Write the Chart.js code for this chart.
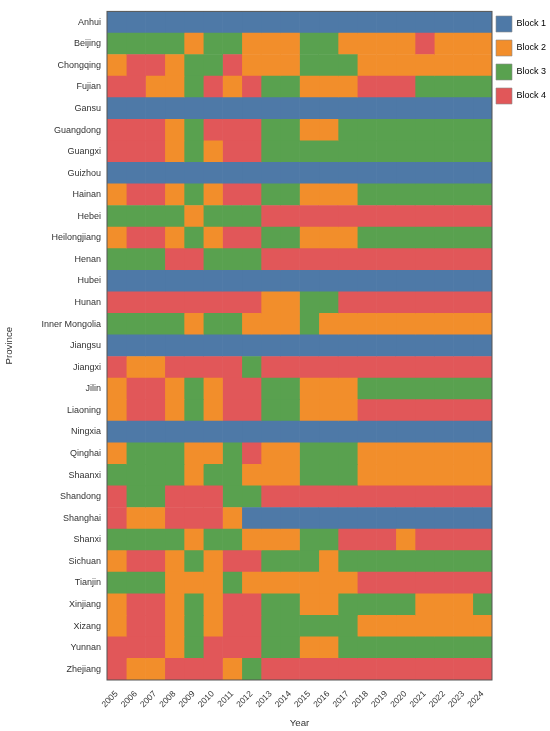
<!DOCTYPE html>
<html>
<head>
<meta charset="utf-8">
<script src="https://cdn.jsdelivr.net/npm/chart.js@4.4.1/dist/chart.umd.min.js"></script>
<style>
  html, body { margin: 0; padding: 0; background: #fff; }
  #wrap { width: 550px; height: 731px; position: relative; }
</style>
</head>
<body>
<div id="wrap"><canvas id="grafica"></canvas></div>
<script>
const provinces = ['Anhui', 'Beijing', 'Chongqing', 'Fujian', 'Gansu', 'Guangdong', 'Guangxi', 'Guizhou',
  'Hainan', 'Hebei', 'Heilongjiang', 'Henan', 'Hubei', 'Hunan', 'Inner Mongolia', 'Jiangsu', 'Jiangxi',
  'Jilin', 'Liaoning', 'Ningxia', 'Qinghai', 'Shaanxi', 'Shandong', 'Shanghai', 'Shanxi', 'Sichuan',
  'Tianjin', 'Xinjiang', 'Xizang', 'Yunnan', 'Zhejiang'];
const years = ['2005', '2006', '2007', '2008', '2009', '2010', '2011', '2012', '2013', '2014',
  '2015', '2016', '2017', '2018', '2019', '2020', '2021', '2022', '2023', '2024'];
const blockNames = ['Block 1', 'Block 2', 'Block 3', 'Block 4'];
const blockColors = ['#4E79A7', '#F28E2B', '#59A14F', '#E15759'];

// block of each province (one row per province, one column per year)
const blocks = [
  [1,1,1,1,1,1,1,1,1,1,1,1,1,1,1,1,1,1,1,1], // Anhui
  [3,3,3,3,2,3,3,2,2,2,3,3,2,2,2,2,4,2,2,2], // Beijing
  [2,4,4,2,3,3,4,2,2,2,3,3,3,2,2,2,2,2,2,2], // Chongqing
  [4,4,2,2,3,4,2,4,3,3,2,2,2,4,4,4,3,3,3,3], // Fujian
  [1,1,1,1,1,1,1,1,1,1,1,1,1,1,1,1,1,1,1,1], // Gansu
  [4,4,4,2,3,4,4,4,3,3,2,2,3,3,3,3,3,3,3,3], // Guangdong
  [4,4,4,2,3,2,4,4,3,3,3,3,3,3,3,3,3,3,3,3], // Guangxi
  [1,1,1,1,1,1,1,1,1,1,1,1,1,1,1,1,1,1,1,1], // Guizhou
  [2,4,4,2,3,2,4,4,3,3,2,2,2,3,3,3,3,3,3,3], // Hainan
  [3,3,3,3,2,3,3,3,4,4,4,4,4,4,4,4,4,4,4,4], // Hebei
  [2,4,4,2,3,2,4,4,3,3,2,2,2,3,3,3,3,3,3,3], // Heilongjiang
  [3,3,3,4,4,3,3,3,4,4,4,4,4,4,4,4,4,4,4,4], // Henan
  [1,1,1,1,1,1,1,1,1,1,1,1,1,1,1,1,1,1,1,1], // Hubei
  [4,4,4,4,4,4,4,4,2,2,3,3,4,4,4,4,4,4,4,4], // Hunan
  [3,3,3,3,2,3,3,2,2,2,3,2,2,2,2,2,2,2,2,2], // Inner Mongolia
  [1,1,1,1,1,1,1,1,1,1,1,1,1,1,1,1,1,1,1,1], // Jiangsu
  [4,2,2,4,4,4,4,3,4,4,4,4,4,4,4,4,4,4,4,4], // Jiangxi
  [2,4,4,2,3,2,4,4,3,3,2,2,2,3,3,3,3,3,3,3], // Jilin
  [2,4,4,2,3,2,4,4,3,3,2,2,2,4,4,4,4,4,4,4], // Liaoning
  [1,1,1,1,1,1,1,1,1,1,1,1,1,1,1,1,1,1,1,1], // Ningxia
  [2,3,3,3,2,2,3,4,2,2,3,3,3,2,2,2,2,2,2,2], // Qinghai
  [3,3,3,3,2,3,3,2,2,2,3,3,3,2,2,2,2,2,2,2], // Shaanxi
  [4,3,3,4,4,4,3,3,4,4,4,4,4,4,4,4,4,4,4,4], // Shandong
  [4,2,2,4,4,4,2,1,1,1,1,1,1,1,1,1,1,1,1,1], // Shanghai
  [3,3,3,3,2,3,3,2,2,2,3,3,4,4,4,2,4,4,4,4], // Shanxi
  [2,4,4,2,3,2,4,4,3,3,3,2,3,3,3,3,3,3,3,3], // Sichuan
  [3,3,3,2,2,2,3,2,2,2,2,2,2,4,4,4,4,4,4,4], // Tianjin
  [2,4,4,2,3,2,4,4,3,3,2,2,3,3,3,3,2,2,2,3], // Xinjiang
  [2,4,4,2,3,2,4,4,3,3,3,3,3,2,2,2,2,2,2,2], // Xizang
  [4,4,4,2,3,4,4,4,3,3,2,2,3,3,3,3,3,3,3,3], // Yunnan
  [4,2,2,4,4,4,2,3,4,4,4,4,4,4,4,4,4,4,4,4]  // Zhejiang
];

const fuente = "'Liberation Sans', Arial, sans-serif";
const gris = '#333333';

// one stacked dataset per year, each cell one unit wide
const datasets = years.map((yr, j) => ({
  label: yr,
  data: provinces.map(() => 1),
  backgroundColor: blocks.map(fila => blockColors[fila[j] - 1]),
  borderWidth: 0,
  barPercentage: 1,
  categoryPercentage: 1
}));

// dark frame around the plot
const marco = {
  id: 'marco',
  afterDatasetsDraw(chart) {
    const { ctx, chartArea: a } = chart;
    ctx.save();
    ctx.strokeStyle = '#555555';
    ctx.lineWidth = 1;
    ctx.strokeRect(a.left, a.top, a.right - a.left, a.bottom - a.top);
    ctx.restore();
  }
};

// nudge legend to where it sits in the reference
const moverLeyenda = {
  id: 'moverLeyenda',
  afterLayout(chart) {
    const l = chart.legend;
    l.left -= 4; l.right -= 4;
    l.top += 5; l.bottom += 5;
  }
};

Chart.defaults.font.family = fuente;
Chart.defaults.color = gris;

new Chart(document.getElementById('grafica'), {
  type: 'bar',
  data: { labels: provinces, datasets: datasets },
  plugins: [marco, moverLeyenda],
  options: {
    indexAxis: 'y',
    responsive: true,
    maintainAspectRatio: false,
    animation: false,
    layout: { padding: { top: 3, right: 0, bottom: 0, left: 0 } },
    plugins: {
      tooltip: { enabled: false },
      legend: {
        position: 'right',
        align: 'start',
        maxWidth: 58,
        onClick: () => {},
        labels: {
          boxWidth: 16,
          boxHeight: 16,
          padding: 8,
          color: gris,
          font: { size: 9 },
          generateLabels: () => blockNames.map((n, i) => ({
            text: n,
            fillStyle: blockColors[i],
            strokeStyle: '#8a8a8a',
            lineWidth: 0.6,
            hidden: false,
            index: i
          }))
        }
      }
    },
    scales: {
      x: {
        type: 'linear',
        min: 0,
        max: years.length,
        stacked: true,
        grid: { display: false },
        border: { display: false },
        afterBuildTicks: s => { s.ticks = years.map((y, i) => ({ value: i + 0.5 })); },
        afterFit: s => { s.height = 51; },
        ticks: {
          autoSkip: false,
          minRotation: 45,
          maxRotation: 45,
          padding: 1,
          color: gris,
          font: { size: 8.5 },
          callback: (v, i) => years[i]
        },
        title: { display: true, text: 'Year', color: gris, font: { size: 9.7 }, padding: { top: 2, bottom: 2 } }
      },
      y: {
        type: 'category',
        stacked: true,
        offset: true,
        grid: { display: false, tickLength: 0 },
        border: { display: false },
        afterFit: s => { s.width = 107; },
        ticks: { autoSkip: false, padding: 6, color: gris, font: { size: 9 } },
        title: { display: true, text: 'Province', color: gris, font: { size: 9.7 }, padding: { top: 4, bottom: 4 } }
      }
    }
  }
});
</script>
</body>
</html>
